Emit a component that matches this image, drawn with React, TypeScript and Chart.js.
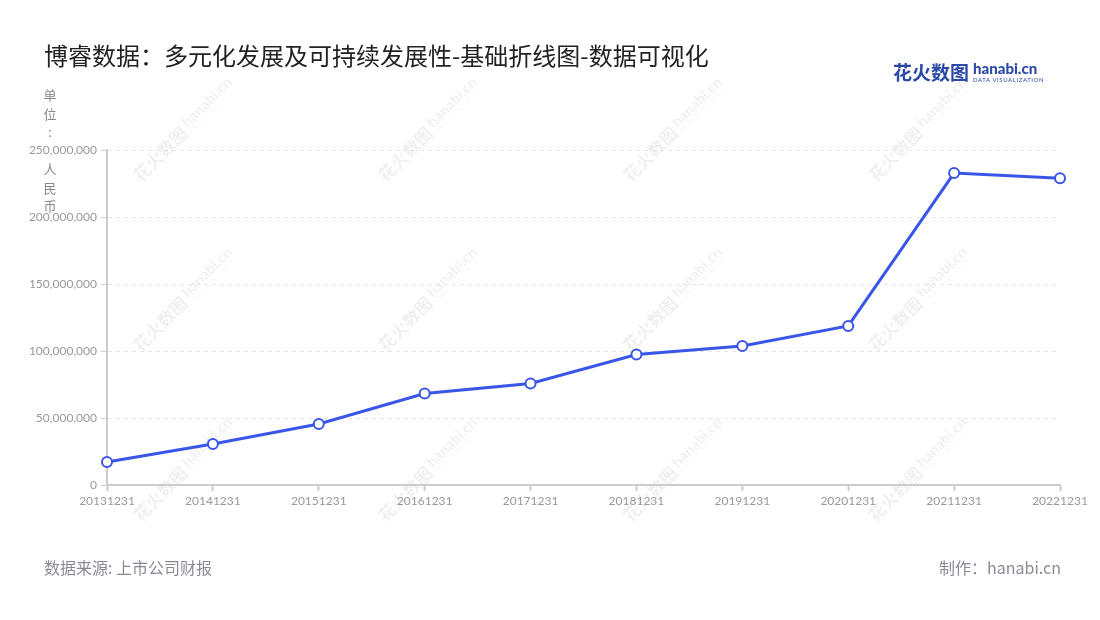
import React, { useEffect, useRef } from "react";
import { Chart, registerables } from "chart.js";

Chart.register(...registerables);

const categories = [
  "20131231", "20141231", "20151231", "20161231", "20171231",
  "20181231", "20191231", "20201231", "20211231", "20221231",
];
const revenue = [
  17200000, 30600000, 45500000, 68300000, 75700000,
  97400000, 103700000, 118700000, 232800000, 228900000,
];
const yTicks = [0, 50000000, 100000000, 150000000, 200000000, 250000000];

const titleText = "博睿数据：多元化发展及可持续发展性-基础折线图-数据可视化";
const yTitle = "单位: 人民币";
const sourceText = "数据来源: 上市公司财报";
const makerText = "制作：hanabi.cn";

const FONT = "Lato, 'Noto Sans CJK SC', 'Noto Sans', sans-serif";
const CJK = "'Noto Sans CJK SC', 'Noto Sans', sans-serif";
const LINE = "#3a56e8";

const wmCols = [0, 1, 2, 3];
const wmRows = [0, 1, 2];

export default function App() {
  const ref = useRef<HTMLCanvasElement | null>(null);

  useEffect(() => {
    if (!ref.current) return;
    const chart = new Chart(ref.current, {
      type: "line",
      data: {
        labels: categories,
        datasets: [
          {
            data: revenue,
            borderColor: LINE,
            borderWidth: 3,
            backgroundColor: "#ffffff",
            pointBackgroundColor: "#ffffff",
            pointBorderColor: LINE,
            pointBorderWidth: 2,
            pointRadius: 5,
            tension: 0,
            clip: false as any,
          },
        ],
      },
      options: {
        animation: false,
        responsive: false,
        layout: { padding: { top: 150, right: 40, bottom: 0, left: 0 } },
        plugins: { legend: { display: false }, tooltip: { enabled: false } },
        scales: {
          x: {
            type: "category",
            offset: false,
            afterFit: (s: any) => { s.height = 135; },
            grid: {
              display: true,
              drawOnChartArea: false,
              drawTicks: true,
              tickLength: 6,
              tickColor: "#cccccc",
              tickWidth: 2,
            },
            border: { display: true, color: "#cccccc", width: 2 },
            ticks: {
              color: "#999999",
              font: { family: FONT, size: 12 },
              padding: 3,
              maxRotation: 0,
              autoSkip: false,
            },
          },
          y: {
            min: 0,
            max: 250000000,
            afterFit: (s: any) => { s.width = 107; },
            afterBuildTicks: (s: any) => { s.ticks = yTicks.map((v) => ({ value: v })); },
            grid: {
              color: "#e6e6e6",
              lineWidth: 1,
              drawTicks: true,
              tickLength: 6,
              tickColor: "#cccccc",
              tickWidth: 1,
            },
            border: { display: true, color: "#cccccc", width: 2, dash: [4, 4] },
            ticks: {
              color: "#999999",
              font: { family: FONT, size: 12 },
              padding: 4,
              callback: (v: any) => Number(v).toLocaleString("en-US"),
            },
          },
        },
      },
    });
    return () => chart.destroy();
  }, []);

  return (
    <div style={{ position: "absolute", left: 0, top: 0, width: 1100, height: 620, background: "#fff", overflow: "hidden" }}>
      {wmRows.map((r) =>
        wmCols.map((c) => (
          <div
            key={`wm-${r}-${c}`}
            style={{
              position: "absolute",
              left: 183 + 245 * c - 70,
              top: 129 + 170 * r - 14,
              width: 140,
              height: 28,
              transform: "rotate(-45deg)",
              display: "flex",
              alignItems: "center",
              justifyContent: "center",
              color: "rgba(0,0,0,0.07)",
              whiteSpace: "nowrap",
              fontFamily: CJK,
            }}
          >
            <span style={{ fontSize: 17, fontWeight: 700, marginRight: 4 }}>花火数图</span>
            <span style={{ display: "inline-flex", flexDirection: "column", lineHeight: 1 }}>
              <span style={{ fontSize: 15, fontWeight: 700, fontFamily: FONT }}>hanabi.cn</span>
              <span style={{ fontSize: 5, fontFamily: FONT, letterSpacing: 0.5 }}>DATA VISUALIZATION</span>
            </span>
          </div>
        ))
      )}
      <canvas ref={ref} width={1100} height={620} style={{ position: "absolute", left: 0, top: 0 }} />
      <div style={{ position: "absolute", left: 44, top: 38, fontFamily: CJK, fontSize: 24, color: "#222", lineHeight: "34px", whiteSpace: "nowrap" }}>
        {titleText}
      </div>
      <div style={{ position: "absolute", left: 893, top: 58, display: "flex", alignItems: "center", color: "#2a4aa6", whiteSpace: "nowrap" }}>
        <span style={{ fontFamily: CJK, fontSize: 19, fontWeight: 700, lineHeight: "28px" }}>花火数图</span>
        <span style={{ display: "inline-flex", flexDirection: "column", marginLeft: 4, lineHeight: 1 }}>
          <span style={{ fontFamily: FONT, fontSize: 15, fontWeight: 900 }}>hanabi.cn</span>
          <span style={{ fontFamily: FONT, fontSize: 6, letterSpacing: 0.6, marginTop: 1 }}>DATA VISUALIZATION</span>
        </span>
      </div>
      <div style={{ position: "absolute", left: 43, top: 86, width: 14, fontFamily: CJK, fontSize: 13, color: "#888", textAlign: "center" }}>
        {Array.from(yTitle).map((ch, i) => (
          <div key={i} style={{ height: 18.5, lineHeight: "18.5px" }}>{ch}</div>
        ))}
      </div>
      <div style={{ position: "absolute", left: 44, top: 556, fontFamily: CJK, fontSize: 16, color: "#8a8a96", lineHeight: "22px", whiteSpace: "nowrap" }}>
        {sourceText}
      </div>
      <div style={{ position: "absolute", right: 39, top: 556, fontFamily: CJK, fontSize: 16, color: "#8a8a96", lineHeight: "22px", whiteSpace: "nowrap" }}>
        {makerText}
      </div>
    </div>
  );
}
